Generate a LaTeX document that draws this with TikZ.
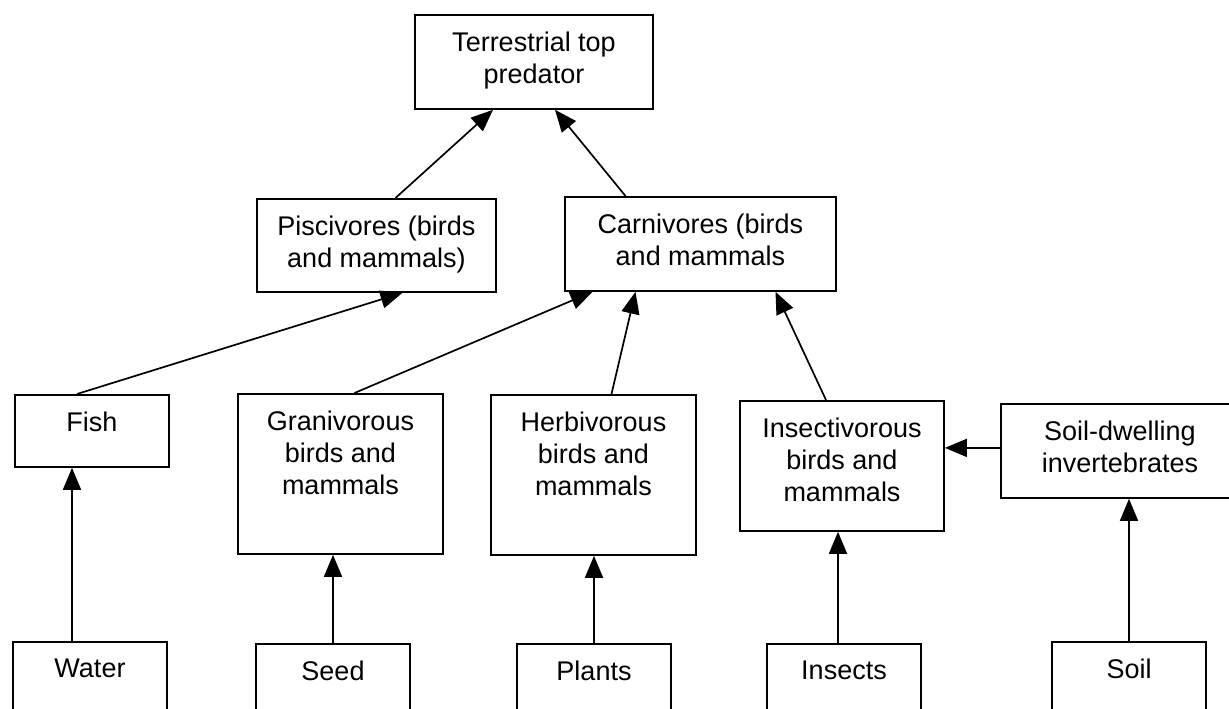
\documentclass[tikz,border=0pt]{standalone}
\usepackage{fontspec}
\setmainfont{Liberation Sans}
\usetikzlibrary{arrows.meta}
\newcommand{\boxtext}[3]{\parbox[t][#2pt][t]{#1pt}{\centering\vspace*{17pt}#3}}

\begin{document}
\begin{tikzpicture}[x=1pt, y=-1pt,
  every node/.style={draw, rectangle, anchor=north, inner sep=0pt, line width=1.8pt,
    font=\fontsize{27}{32}\selectfont},
  arr/.style={-{Triangle[length=22pt,width=18pt]}, line width=1.7pt}]
  \clip (0,0) rectangle (1229,709);
  \node (terr) at (534,14) {\boxtext{238}{94}{Terrestrial top\\predator}};
  \node (pisc) at (376.5,198) {\boxtext{239}{93}{Piscivores (birds\\and mammals)}};
  \node (carn) at (700.5,196) {\boxtext{271}{94}{Carnivores (birds\\and mammals}};
  \node (fish) at (92,394) {\boxtext{154}{72}{Fish}};
  \node (gran) at (340.5,393) {\boxtext{205}{160}{Granivorous\\birds and\\mammals}};
  \node (herb) at (593.5,394) {\boxtext{205}{160}{Herbivorous\\birds and\\mammals}};
  \node (insv) at (842,400) {\boxtext{204}{130}{Insectivorous\\birds and\\mammals}};
  \node (soild) at (1120,403) {\boxtext{238}{94}{Soil-dwelling\\invertebrates}};
  \node (water) at (90,641) {\boxtext{154}{100}{Water}};
  \node (seed) at (333,643) {\boxtext{154}{100}{Seed}};
  \node (plants) at (594,643) {\boxtext{154}{100}{Plants}};
  \node (insects) at (844,643) {\boxtext{154}{100}{Insects}};
  \node (soil) at (1129,641) {\boxtext{154}{100}{Soil}};
  \draw[arr] ([xshift=19pt]pisc.north) -- ([xshift=-41pt]terr.south);
  \draw[arr] ([xshift=-75pt]carn.north) -- ([xshift=21pt]terr.south);
  \draw[arr] ([xshift=-15pt]fish.north) -- ([xshift=26pt]pisc.south);
  \draw[arr] ([xshift=14pt]gran.north) -- ([xshift=-108pt]carn.south);
  \draw[arr] ([xshift=18pt]herb.north) -- ([xshift=-65pt]carn.south);
  \draw[arr] ([xshift=-16pt]insv.north) -- ([xshift=75pt]carn.south);
  \draw[arr] ([yshift=3pt]soild.west) -- ([yshift=3pt]soild.west -| insv.east);
  \draw[arr] ([xshift=-18pt]water.north) -- ([xshift=-18pt]water.north |- fish.south);
  \draw[arr] (seed.north) -- (seed.north |- gran.south);
  \draw[arr] (plants.north) -- (plants.north |- herb.south);
  \draw[arr] ([xshift=-6pt]insects.north) -- ([xshift=-6pt]insects.north |- insv.south);
  \draw[arr] (soil.north) -- (soil.north |- soild.south);
\end{tikzpicture}
\end{document}
